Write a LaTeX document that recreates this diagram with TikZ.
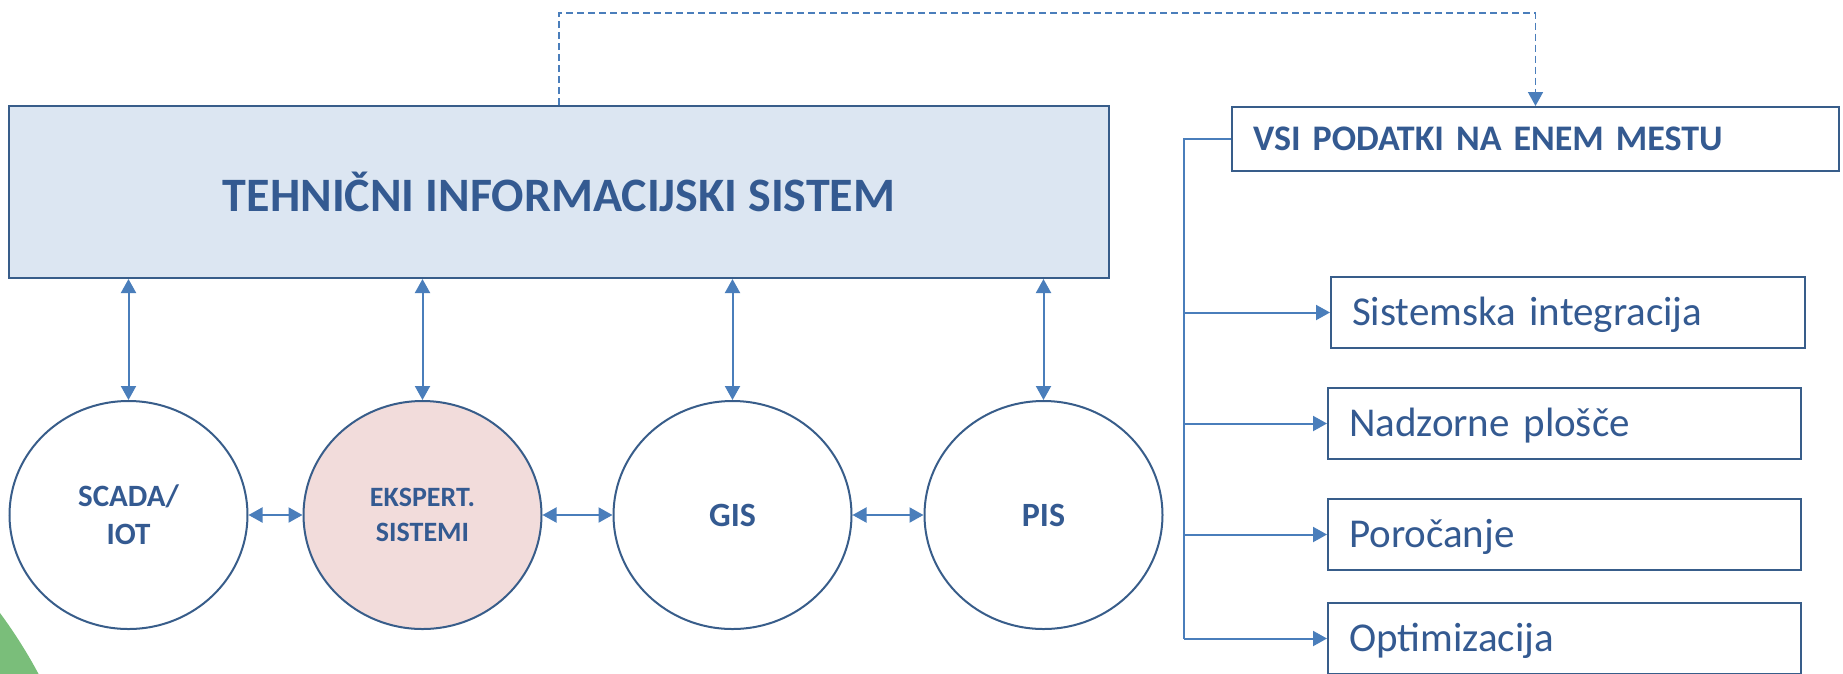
\documentclass[tikz,border=0pt]{standalone}
\usepackage{fontspec}
\setmainfont{Carlito}
\usetikzlibrary{shapes.geometric,arrows.meta}
\definecolor{txt}{RGB}{52,90,145}
\definecolor{ln}{RGB}{74,126,187}
\definecolor{edgec}{RGB}{56,93,138}
\definecolor{tisfill}{RGB}{220,230,242}
\definecolor{pinkfill}{RGB}{242,220,219}
\definecolor{grn}{RGB}{122,190,122}
\begin{document}
\begin{tikzpicture}[x=1pt,y=-1pt,
  conn/.style={draw=ln,line width=2pt},
  onetip/.style={-{Triangle[width=15pt,length=14pt]}},
  twotip/.style={{Triangle[width=15pt,length=14pt]}-{Triangle[width=15pt,length=14pt]}},
  circ/.style={ellipse,draw=edgec,line width=2pt,fill=white,minimum width=238pt,minimum height=228pt,inner sep=0pt,align=center,text=txt},
  outbox/.style={rectangle,draw=edgec,line width=2pt,fill=white,text=txt,inner ysep=0pt,inner xsep=21pt,align=left},
  itemfont/.style={font=\fontsize{41}{49}\selectfont,text height=26.4pt,text depth=0pt}
]
\useasboundingbox (0,0) rectangle (1843,673);
\fill[grn] (-400,908) circle[radius=497pt];

% main box
\node[rectangle,draw=edgec,line width=2pt,fill=tisfill,minimum width=1100pt,minimum height=172pt,inner sep=0pt,
      text=txt,font=\fontsize{48}{58}\selectfont\bfseries] (tis) at (559,192) {TEHNIČNI INFORMACIJSKI SISTEM};

% circles
\node[circ,font=\fontsize{31}{38}\selectfont\bfseries] (scada) at (128.5,515) {SCADA/\\IOT};
\node[circ,fill=pinkfill,font=\fontsize{28}{35}\selectfont\bfseries] (eks) at (422.5,515) {EKSPERT.\\SISTEMI};
\node[circ,font=\fontsize{34}{40}\selectfont\bfseries] (gis) at (732.5,515) {GIS};
\node[circ,font=\fontsize{34}{40}\selectfont\bfseries] (pis) at (1043.5,515) {PIS};

% right boxes
\node[outbox,text width=565pt,minimum height=64pt,font=\fontsize{36}{43}\selectfont\bfseries,text height=23.2pt,text depth=0pt] (vsi) at (1535.5,139) {VSI PODATKI NA ENEM MESTU};
\node[outbox,itemfont,text width=432pt,minimum height=71pt] (sis) at (1568,312.5) {Sistemska integracija};
\node[outbox,itemfont,text width=431pt,minimum height=71pt] (nad) at (1564.5,423.5) {Nadzorne plošče};
\node[outbox,itemfont,text width=431pt,minimum height=71pt] (por) at (1564.5,534.5) {Poročanje};
\node[outbox,itemfont,text width=431pt,minimum height=71pt] (opt) at (1564.5,638.5) {Optimizacija};

% vertical arrows
\foreach \c in {scada,eks,gis,pis}
  \draw[conn,twotip] (\c.north |- tis.south) -- (\c.north);

% horizontal arrows
\draw[conn,twotip] (scada.east) -- (eks.west);
\draw[conn,twotip] (eks.east) -- (gis.west);
\draw[conn,twotip] (gis.east) -- (pis.west);

% dashed link
\coordinate (dtop) at (559,13);
\draw[conn,line width=1.6pt,dash pattern=on 7pt off 4pt,onetip] (tis.north) -- (dtop) -| (vsi.north);

% tree
\coordinate (trunk) at (1184,0);
\draw[conn] (vsi.west) -| (trunk |- opt.west);
\foreach \b in {sis,nad,por,opt}
  \draw[conn,onetip] (trunk |- \b.west) -- (\b.west);
\end{tikzpicture}
\end{document}
